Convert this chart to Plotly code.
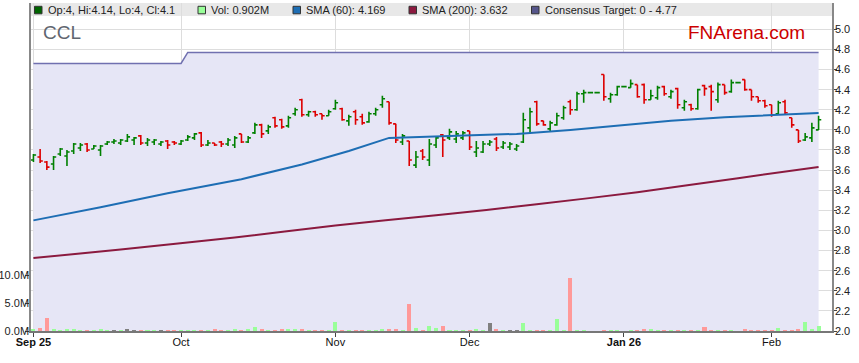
import plotly.graph_objects as go

# ---------------- data ----------------
# index = weekday number from 1 Sep 2025 (0) to 11 Feb 2026 (117)
opens = [3.70,3.73,3.68,3.66,3.76,3.74,3.79,3.82,3.86,3.81,3.80,3.86,3.88,3.87,3.89,3.90,3.94,3.87,3.88,3.86,
         3.89,3.88,3.86,3.90,3.92,3.97,3.85,3.87,3.88,3.86,3.85,3.96,3.88,3.97,4.05,3.99,4.12,4.10,4.04,4.16,
         4.30,4.15,4.18,4.16,4.14,4.21,4.21,4.09,4.18,4.13,4.08,4.16,4.25,4.28,4.06,3.88,3.89,3.65,3.79,3.70,
         3.85,3.95,3.92,3.91,3.92,3.99,3.78,3.78,3.86,3.91,3.83,3.83,3.81,3.88,4.02,4.28,4.09,4.01,4.05,4.12,
         4.28,4.20,4.36,4.37,4.37,4.55,4.31,4.35,4.43,4.42,4.45,4.45,4.30,4.32,4.43,4.33,4.41,4.22,4.25,4.21,
         4.44,4.43,4.30,4.45,4.38,4.47,4.50,4.40,4.33,4.29,4.25,4.16,4.28,4.12,4.00,3.90,3.92,4.00]
highs = [3.76,3.81,3.69,3.74,3.82,3.80,3.87,3.87,3.87,3.85,3.85,3.89,3.91,3.91,3.96,3.93,3.95,3.92,3.91,3.89,
         3.90,3.89,3.90,3.95,3.97,3.98,3.90,3.87,3.89,3.92,3.94,3.96,3.94,4.07,4.06,4.05,4.13,4.11,4.14,4.22,
         4.31,4.19,4.19,4.16,4.20,4.30,4.22,4.15,4.20,4.16,4.18,4.22,4.34,4.28,4.06,3.96,3.89,3.79,3.81,3.91,
         3.94,3.96,4.01,3.99,3.99,3.99,3.89,3.89,3.90,3.93,3.89,3.88,3.86,4.17,4.22,4.29,4.09,4.09,4.17,4.24,
         4.30,4.38,4.40,4.37,4.37,4.55,4.37,4.44,4.43,4.50,4.45,4.46,4.40,4.44,4.44,4.40,4.42,4.30,4.26,4.41,
         4.45,4.45,4.47,4.45,4.50,4.47,4.50,4.40,4.33,4.30,4.25,4.29,4.30,4.12,4.00,3.97,4.07,4.14]
lows = [3.68,3.67,3.60,3.60,3.74,3.64,3.76,3.79,3.78,3.81,3.74,3.85,3.86,3.85,3.88,3.85,3.85,3.84,3.85,3.84,
        3.81,3.85,3.85,3.89,3.90,3.83,3.84,3.84,3.83,3.84,3.82,3.87,3.87,3.96,3.92,3.96,4.02,4.01,4.02,4.14,
        4.13,4.13,4.13,4.10,4.14,4.20,4.09,4.04,4.05,4.05,4.07,4.14,4.22,4.05,3.87,3.85,3.64,3.62,3.70,3.64,
        3.82,3.73,3.90,3.87,3.90,3.80,3.73,3.77,3.84,3.79,3.81,3.80,3.79,3.87,3.97,4.04,4.04,3.99,4.04,4.10,
        4.15,4.19,4.27,4.37,4.37,4.29,4.27,4.34,4.43,4.42,4.32,4.26,4.30,4.30,4.34,4.31,4.21,4.19,4.19,4.20,
        4.34,4.19,4.27,4.35,4.37,4.47,4.39,4.29,4.27,4.22,4.13,4.15,4.15,4.02,3.87,3.89,3.88,4.00]
closes = [3.75,3.69,3.63,3.73,3.81,3.78,3.86,3.85,3.80,3.84,3.84,3.88,3.89,3.90,3.93,3.92,3.87,3.90,3.90,3.88,
          3.85,3.87,3.89,3.93,3.96,3.85,3.87,3.85,3.86,3.90,3.92,3.88,3.92,4.05,3.96,4.03,4.04,4.03,4.12,4.20,
          4.15,4.18,4.15,4.14,4.18,4.27,4.10,4.13,4.10,4.07,4.16,4.20,4.31,4.07,3.90,3.94,3.70,3.73,3.73,3.86,
          3.92,3.90,3.98,3.96,3.97,3.83,3.82,3.86,3.88,3.82,3.87,3.86,3.84,4.10,4.18,4.06,4.05,4.07,4.14,4.22,
          4.20,4.36,4.37,4.37,4.37,4.33,4.35,4.43,4.43,4.46,4.33,4.30,4.34,4.42,4.36,4.38,4.25,4.28,4.21,4.40,
          4.41,4.38,4.45,4.37,4.47,4.47,4.40,4.33,4.29,4.24,4.15,4.27,4.17,4.05,3.89,3.93,4.02,4.10]
volume_m = [0.3,0.5,2.3,0.3,0.15,0.3,0.3,0.15,0.15,0.03,0.3,0.15,0.15,0.03,0.3,0.15,0.12,0.12,0.12,0.12,
            0.12,0.12,0.12,0.12,0.03,0.12,0.12,0.3,0.15,0.03,0.3,0.15,0.3,0.65,0.3,0.12,0.15,0.3,0.3,0.3,
            0.3,0.12,0.15,0.15,0.12,1.55,0.03,0.12,0.15,0.15,0.12,0.12,0.3,0.3,0.3,0.12,4.8,0.5,0.15,0.85,
            0.5,0.85,0.03,0.12,0.12,0.12,0.3,0.03,1.4,0.3,0.03,0.12,0.12,1.4,0.12,0.12,0.12,0.12,2.1,0.12,
            9.5,0.12,0.12,0.0,0.0,0.12,0.12,0.03,0.0,0.03,0.12,0.3,0.3,0.12,0.03,0.12,0.12,0.12,0.12,0.12,
            0.65,0.12,0.12,0.12,0.12,0.0,0.3,0.12,0.12,0.12,0.12,0.5,0.12,0.12,0.3,1.55,0.3,0.9]
# g = up day, r = down day, n = unchanged (grey)
volume_dir = ("grrgggggrg" "ggngnnrggn" "rrgggrgrrg" "grggrgrrgg" "rgrrggrgrr" "gggrrgrgrg"
              "grgggrggnr" "gnnggrrggg" "rggggrgggg" "rrggrgrgrg" "rrgrggrrrr" "rgrrrggg")
sma60_x = [0, 10, 20, 31, 40, 47, 53, 60, 72, 80, 88, 95, 103, 110, 117]
sma60_y = [3.10, 3.23, 3.37, 3.51, 3.655, 3.79, 3.92, 3.935, 3.96, 4.00, 4.05, 4.09, 4.125, 4.15, 4.169]
sma200_x = [0, 13, 30, 45, 60, 75, 90, 105, 117]
sma200_y = [2.725, 2.81, 2.93, 3.05, 3.15, 3.26, 3.38, 3.52, 3.632]
target_x = [0, 22, 23, 117]
target_y = [4.66, 4.66, 4.77, 4.77]
month_idx = [0, 22, 45, 65, 88, 110]
month_lbl = ["<b>Sep 25</b>", "Oct", "Nov", "Dec", "<b>Jan 26</b>", "Feb"]
price_ticks = [2.0, 2.2, 2.4, 2.6, 2.8, 3.0, 3.2, 3.4, 3.6, 3.8, 4.0, 4.2, 4.4, 4.6, 4.8, 5.0]
vol_ticks = [0, 5, 10]
vol_tick_lbl = ["0.0M", "5.0M", "10.0M"]

idx = list(range(len(closes)))
vcol = {"g": "#99ff99", "r": "#ff9999", "n": "#808080"}
bar_colors = [vcol[c] for c in volume_dir]

# ---------------- figure ----------------
W, H = 859, 363
L, R, T, B = 31, 27, 3, 32
pw, ph = W - L - R, H - T - B
def px(x): return (x - L) / pw
def py(y): return (H - B - y) / ph

FONT = "Liberation Sans, Arial, sans-serif"
px_per_price = 100.56
yrange = [2.0, 2.0 + ph / px_per_price]
vtop = ph / 5.57

fig = go.Figure()
# base subplot: consensus target band (drawn under everything else)
fig.add_trace(go.Scatter(x=target_x, y=target_y, mode="lines", fill="tozeroy",
                         fillcolor="#e6e6f6", line=dict(color="#7070b0", width=1.5),
                         hoverinfo="skip", showlegend=False))
# volume on left axis
fig.add_trace(go.Bar(x=idx, y=volume_m, marker=dict(color=bar_colors, line=dict(width=0)), width=0.6,
                     yaxis="y2", hoverinfo="skip", showlegend=False))
# price marks on an overlaid copy of the price axis
fig.add_trace(go.Scatter(x=sma200_x, y=sma200_y, mode="lines", yaxis="y3",
                         line=dict(color="#8b1a3f", width=2, shape="spline", smoothing=0.6),
                         hoverinfo="skip", showlegend=False))
fig.add_trace(go.Scatter(x=sma60_x, y=sma60_y, mode="lines", yaxis="y3",
                         line=dict(color="#1e6eb4", width=2), hoverinfo="skip", showlegend=False))
fig.add_trace(go.Ohlc(x=idx, open=opens, high=highs, low=lows, close=closes, tickwidth=0.4, yaxis="y3",
                      increasing=dict(line=dict(color="#008000", width=1.6)),
                      decreasing=dict(line=dict(color="#dd0000", width=1.6)),
                      hoverinfo="skip", showlegend=False))

fig.update_layout(
    width=W, height=H, margin=dict(l=L, r=R, t=T, b=B, autoexpand=False),
    paper_bgcolor="white", plot_bgcolor="white", showlegend=False,
    font=dict(family=FONT, size=11, color="#222"),
    xaxis=dict(range=[-0.36, 119.0], tickvals=month_idx, ticktext=month_lbl, ticks="outside", ticklen=4,
               tickcolor="#444", showgrid=True, gridcolor="#dddddd", gridwidth=1, zeroline=False,
               showline=True, linecolor="#777", linewidth=1.5, rangeslider=dict(visible=False),
               automargin=False, ticklabelstandoff=-4, tickfont=dict(size=11, color="#111")),
    yaxis=dict(side="right", range=yrange, tickvals=price_ticks, ticktext=[f"{v:.1f}" for v in price_ticks],
               ticks="outside", ticklen=3, tickcolor="#444", showgrid=True, gridcolor="#dddddd",
               zeroline=False, showline=True, linecolor="#888", linewidth=1.5, automargin=False,
               ticklabelstandoff=-4, tickfont=dict(size=11, color="#222")),
    yaxis2=dict(overlaying="y", side="left", range=[0, vtop], tickvals=vol_ticks, ticktext=vol_tick_lbl,
                ticks="outside", ticklen=4, tickcolor="#444", showgrid=False, zeroline=False,
                showline=True, linecolor="#888", linewidth=1.5, automargin=False,
                ticklabelstandoff=-6, tickfont=dict(size=11, color="#222")),
    yaxis3=dict(overlaying="y", side="right", range=yrange, visible=False, showgrid=False,
                zeroline=False, automargin=False),
    bargap=0,
)

shapes = [dict(type="rect", xref="paper", yref="paper", x0=0, x1=px(834), y0=py(16), y1=1.0,
               fillcolor="#e8e8e8", line=dict(width=0), layer="below")]
legend_items = [
    (34.5, "#006400", "Op:4, Hi:4.14, Lo:4, Cl:4.1"),
    (198.0, "#99ff99", "Vol: 0.902M"),
    (293.0, "#1e6eb4", "SMA (60): 4.169"),
    (409.0, "#8b1a3f", "SMA (200): 3.632"),
    (531.5, "#55558a", "Consensus Target: 0 - 4.77"),
]
annotations = []
for x0, col, txt in legend_items:
    shapes.append(dict(type="rect", xref="paper", yref="paper", x0=px(x0), x1=px(x0 + 7.5),
                       y0=py(13.8), y1=py(6.3), fillcolor=col, line=dict(color="#333", width=1)))
    annotations.append(dict(xref="paper", yref="paper", x=px(x0 + 11), y=py(10), xanchor="left",
                            yanchor="middle", text=txt, showarrow=False,
                            font=dict(family=FONT, size=11, color="#222")))
annotations.append(dict(xref="paper", yref="paper", x=px(41), y=py(32.5), xanchor="left", yanchor="middle",
                        text="CCL", showarrow=False, font=dict(family=FONT, size=19, color="#5f6670")))
annotations.append(dict(xref="paper", yref="paper", x=px(807), y=py(33), xanchor="right", yanchor="middle",
                        text="FNArena.com", showarrow=False, font=dict(family=FONT, size=19, color="#cc0000")))
fig.update_layout(shapes=shapes, annotations=annotations)

fig.write_html("out.html", config={"displayModeBar": False},
               post_script="document.body.style.margin='0';document.body.style.overflow='hidden';")
